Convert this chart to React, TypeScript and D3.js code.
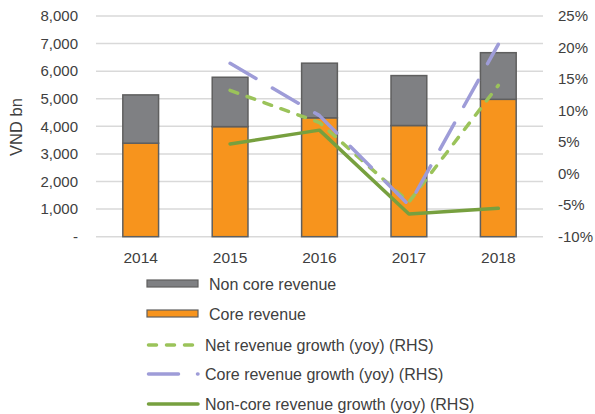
import React, { useEffect, useRef } from "react";
import * as d3 from "d3";

// chart values
const years = ["2014", "2015", "2016", "2017", "2018"];
const coreRevenue = [3390, 3990, 4310, 4030, 4980];
const nonCoreRevenue = [1750, 1790, 1980, 1810, 1690];
const netGrowth = [null, 0.132, 0.081, -0.045, 0.14];
const coreGrowth = [null, 0.175, 0.092, -0.05, 0.205];
const nonCoreGrowth = [null, 0.047, 0.069, -0.064, -0.055];
const leftTicks = [0, 1000, 2000, 3000, 4000, 5000, 6000, 7000, 8000];
const rightTicks = [-0.1, -0.05, 0, 0.05, 0.1, 0.15, 0.2, 0.25];

const App = () => {
  const svgRef = useRef<SVGSVGElement>(null);

  useEffect(() => {
    const svg = d3.select(svgRef.current);
    svg.selectAll("*").remove();

    const font = "'Liberation Sans', Arial, sans-serif";
    const textColor = "#404040";
    const top = 16,
      bottom = 236.7,
      left = 96,
      right = 543;

    const x = d3
      .scaleBand()
      .domain(years)
      .range([left, right])
      .paddingInner(0.6)
      .paddingOuter(0.3);
    const yL = d3.scaleLinear().domain([0, 8000]).range([bottom, top]);
    const yR = d3.scaleLinear().domain([-0.1, 0.25]).range([bottom, top]);

    // gridlines
    svg
      .append("g")
      .selectAll("line")
      .data(leftTicks)
      .enter()
      .append("line")
      .attr("x1", left)
      .attr("x2", right)
      .attr("y1", (d) => yL(d))
      .attr("y2", (d) => yL(d))
      .attr("stroke", "#D9D9D9")
      .attr("stroke-width", 1.5);

    // left tick labels
    svg
      .append("g")
      .selectAll("text")
      .data(leftTicks)
      .enter()
      .append("text")
      .attr("x", 78)
      .attr("y", (d) => yL(d))
      .attr("dy", "0.35em")
      .attr("text-anchor", "end")
      .attr("font-family", font)
      .attr("font-size", 15)
      .attr("fill", textColor)
      .text((d) => (d === 0 ? "-" : d3.format(",")(d)));

    // right tick labels
    svg
      .append("g")
      .selectAll("text")
      .data(rightTicks)
      .enter()
      .append("text")
      .attr("x", 558)
      .attr("y", (d) => yR(d))
      .attr("dy", "0.35em")
      .attr("font-family", font)
      .attr("font-size", 15)
      .attr("fill", textColor)
      .text((d) => Math.round(d * 100) + "%");

    // x labels
    svg
      .append("g")
      .selectAll("text")
      .data(years)
      .enter()
      .append("text")
      .attr("x", (d) => x(d)! + x.bandwidth() / 2)
      .attr("y", 263)
      .attr("text-anchor", "middle")
      .attr("font-family", font)
      .attr("font-size", 15.5)
      .attr("fill", textColor)
      .text((d) => d);

    // y title
    svg
      .append("text")
      .attr("transform", "translate(22,127) rotate(-90)")
      .attr("text-anchor", "middle")
      .attr("font-family", font)
      .attr("font-size", 16.5)
      .attr("fill", textColor)
      .text("VND bn");

    // stacked bars
    const bars = svg.append("g");
    years.forEach((yr, i) => {
      const c = coreRevenue[i];
      const t = c + nonCoreRevenue[i];
      bars
        .append("rect")
        .attr("x", x(yr)!)
        .attr("width", x.bandwidth())
        .attr("y", yL(c))
        .attr("height", yL(0) - yL(c))
        .attr("fill", "#F7941D")
        .attr("stroke", "#5F5F5F")
        .attr("stroke-width", 1.5);
      bars
        .append("rect")
        .attr("x", x(yr)!)
        .attr("width", x.bandwidth())
        .attr("y", yL(t))
        .attr("height", yL(c) - yL(t))
        .attr("fill", "#7F8083")
        .attr("stroke", "#5F5F5F")
        .attr("stroke-width", 1.5);
    });

    const line = d3
      .line<number | null>()
      .defined((d) => d !== null)
      .x((_, i) => x(years[i])! + x.bandwidth() / 2)
      .y((d) => yR(d as number));

    const series = [
      { data: netGrowth, color: "#9BC35A", dash: "8,10", width: 3.5 },
      { data: coreGrowth, color: "#9E9CD8", dash: "30,19", width: 3.5 },
      { data: nonCoreGrowth, color: "#77A03F", dash: null, width: 3.5 },
    ];
    // draw order: net, core, non-core on top
    series.forEach((s) => {
      svg
        .append("path")
        .datum(s.data)
        .attr("d", line)
        .attr("fill", "none")
        .attr("stroke", s.color)
        .attr("stroke-width", s.width)
        .attr("stroke-linecap", "round")
        .attr("stroke-linejoin", "round")
        .attr("stroke-dasharray", s.dash);
    });

    // legend
    const lg = svg.append("g");
    const rows = [284, 314, 345, 374, 404];
    const rectItems = [
      { label: "Non core revenue", color: "#7F8083" },
      { label: "Core revenue", color: "#F7941D" },
    ];
    rectItems.forEach((it, i) => {
      lg.append("rect")
        .attr("x", 147)
        .attr("y", rows[i] - 4)
        .attr("width", 51)
        .attr("height", 7)
        .attr("fill", it.color)
        .attr("stroke", "#5F5F5F")
        .attr("stroke-width", 1.2);
      lg.append("text")
        .attr("x", 209)
        .attr("y", rows[i])
        .attr("dy", "0.35em")
        .attr("font-family", font)
        .attr("font-size", 16)
        .attr("fill", textColor)
        .text(it.label);
    });
    const lineLabels = [
      "Net revenue growth (yoy) (RHS)",
      "Core revenue growth (yoy) (RHS)",
      "Non-core revenue growth (yoy) (RHS)",
    ];
    series.forEach((s, i) => {
      const yy = rows[i + 2];
      lg.append("line")
        .attr("x1", 148.5)
        .attr("x2", i === 0 ? 194 : 198)
        .attr("y1", yy)
        .attr("y2", yy)
        .attr("stroke", s.color)
        .attr("stroke-width", s.width)
        .attr("stroke-linecap", "round")
        .attr("stroke-dasharray", s.dash);
      lg.append("text")
        .attr("x", 205)
        .attr("y", yy)
        .attr("dy", "0.35em")
        .attr("font-family", font)
        .attr("font-size", 16)
        .attr("fill", textColor)
        .text(lineLabels[i]);
    });
  }, []);

  return (
    <svg
      ref={svgRef}
      width={595}
      height={414}
      style={{ position: "absolute", left: 0, top: 0, background: "#fff" }}
    />
  );
};

export default App;
